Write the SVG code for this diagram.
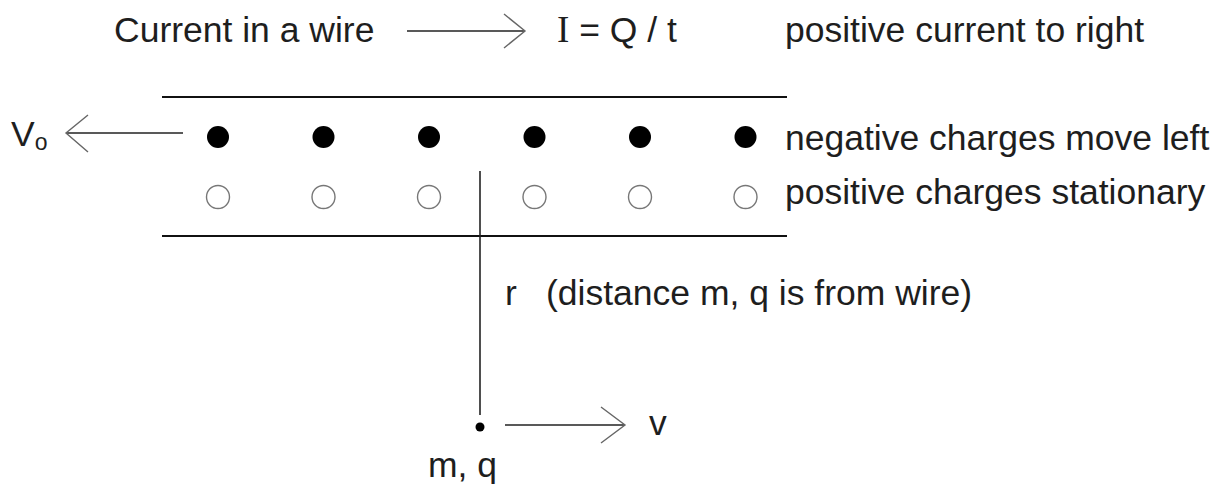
<svg xmlns="http://www.w3.org/2000/svg" width="1225" height="489" viewBox="0 0 1225 489">
<style>
text{font-family:"Liberation Sans",Arial,sans-serif;font-size:35.5px;fill:#1e1e1e}
.serif{font-family:"Liberation Serif","Times New Roman",serif}
.wire{stroke:#111;stroke-width:2;fill:none}
.arr{stroke:#222;stroke-width:1.6;fill:none}
.head{stroke:#666;stroke-width:1.4;fill:none}
.neg{fill:#000}
.pos{fill:#fff;stroke:#777;stroke-width:1.4}
</style>
<rect width="1225" height="489" fill="#fff"/>
<g id="title">
<text x="114" y="42" font-size="35">Current in a wire</text>
<text x="557" y="42"><tspan class="serif" font-size="37">I</tspan> = Q / t</text>
<text x="785" y="42">positive current to right</text>
</g>
<g id="wire">
<line class="wire" x1="162" y1="97" x2="787" y2="97"/>
<line class="wire" x1="162" y1="236" x2="787" y2="236"/>
</g>
<g id="negative-charges">
<circle class="neg" cx="218" cy="137" r="11"/>
<circle class="neg" cx="323.5" cy="137" r="11"/>
<circle class="neg" cx="429" cy="137" r="11"/>
<circle class="neg" cx="534.5" cy="137" r="11"/>
<circle class="neg" cx="640" cy="137" r="11"/>
<circle class="neg" cx="745.5" cy="137" r="11"/>
<text x="785" y="150">negative charges move left</text>
</g>
<g id="positive-charges">
<circle class="pos" cx="218" cy="197" r="11.5"/>
<circle class="pos" cx="323.5" cy="197" r="11.5"/>
<circle class="pos" cx="429" cy="197" r="11.5"/>
<circle class="pos" cx="534.5" cy="197" r="11.5"/>
<circle class="pos" cx="640" cy="197" r="11.5"/>
<circle class="pos" cx="745.5" cy="197" r="11.5"/>
<text x="785" y="204">positive charges stationary</text>
</g>
<g id="vo-label">
<text x="11" y="146" font-size="34">V<tspan font-size="23" dy="4">o</tspan></text>
</g>
<g id="r-label">
<text x="505" y="305">r</text>
<text x="546" y="305" font-size="36.5">(distance m, q is from wire)</text>
</g>
<g id="particle">
<circle cx="480" cy="427" r="4.5" fill="#000"/>
<text x="428" y="477">m, q</text>
<text x="649" y="435">v</text>
</g>
<g id="connectors">
<line class="arr" x1="407" y1="31" x2="525" y2="31"/>
<polyline class="head" points="504,14 525,31 504,48"/>
<line class="arr" x1="183" y1="133" x2="66" y2="133"/>
<polyline class="head" points="88,115 66,133 88,152"/>
<line class="arr" x1="480" y1="171" x2="480" y2="415"/>
<line class="arr" x1="505" y1="425" x2="625" y2="425"/>
<polyline class="head" points="601,407 625,425 601,443"/>
</g>
</svg>
